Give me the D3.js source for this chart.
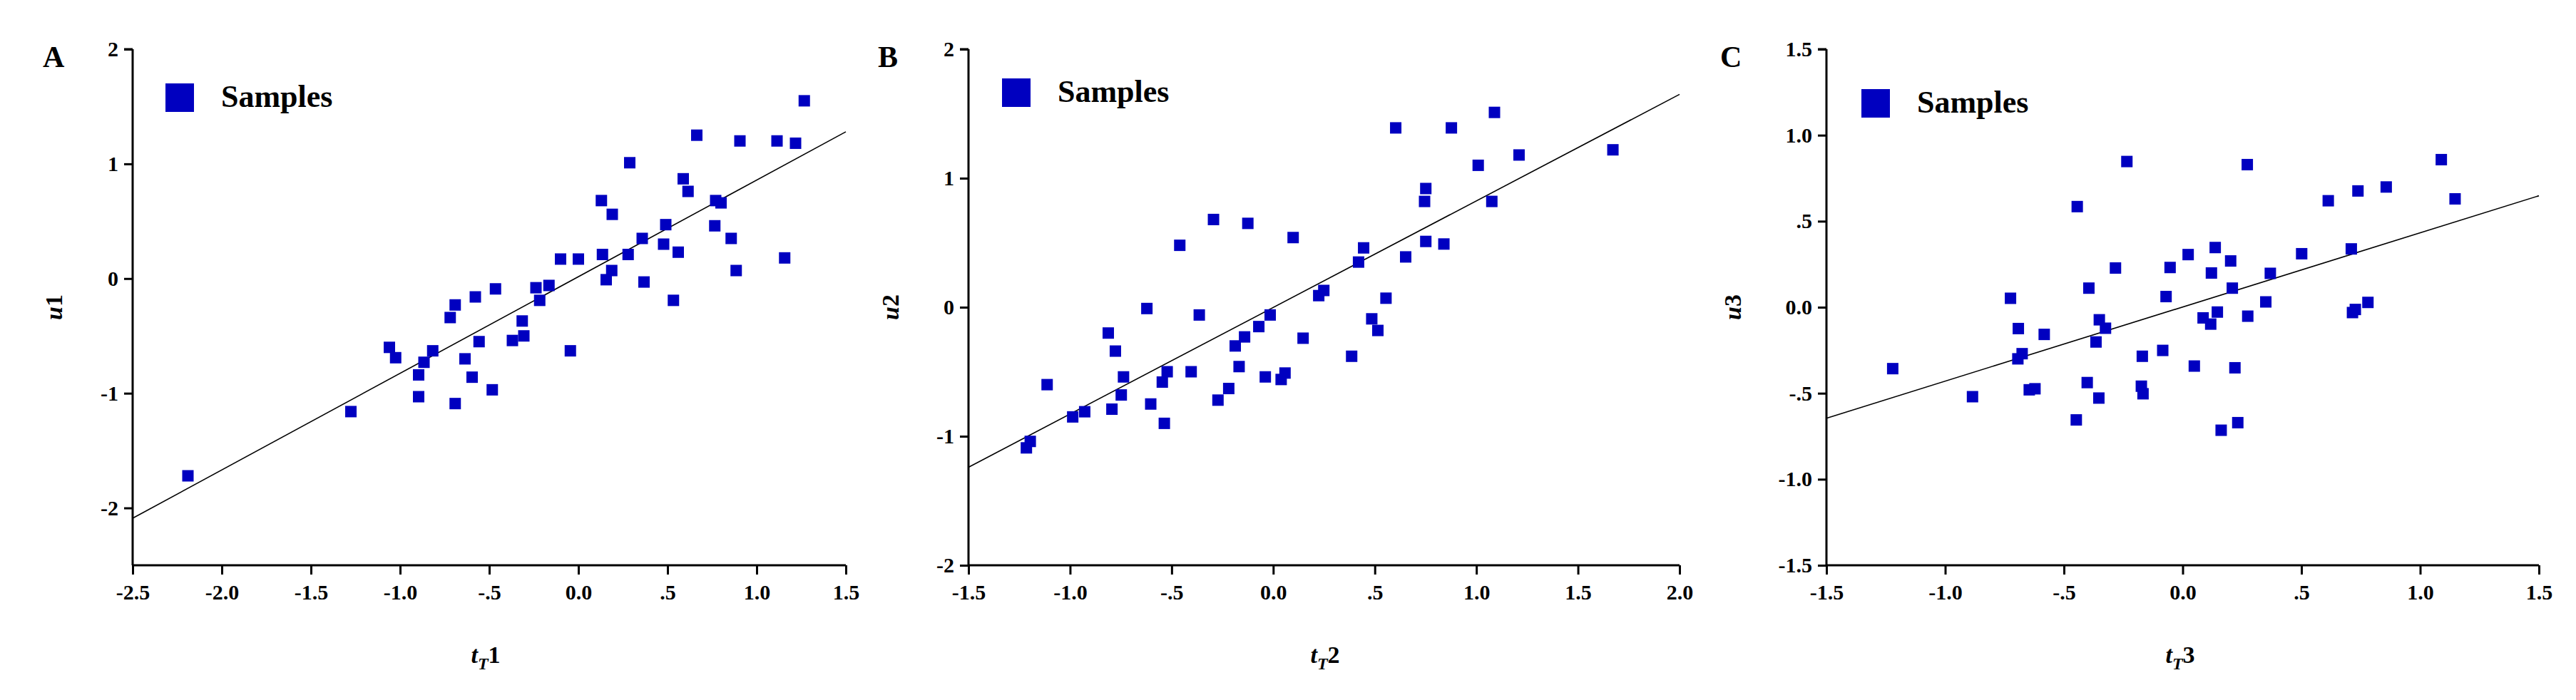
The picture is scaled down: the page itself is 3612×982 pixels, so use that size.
<!DOCTYPE html>
<html><head><meta charset="utf-8">
<script src="https://cdn.jsdelivr.net/npm/d3@7"></script>
<style>body{margin:0;background:#fff}text{font-family:"Liberation Serif","Times New Roman",serif;font-weight:bold}</style>
</head><body>
<svg id="c" width="3612" height="982"></svg>
<script>
const pointsA = [[-2.19,-1.72],[-1.276,-1.16],[-1.06,-0.60],[-1.025,-0.69],[-0.896,-0.84],[-0.896,-1.03],[-0.866,-0.73],[-0.817,-0.63],[-0.719,-0.34],[-0.691,-0.23],[-0.691,-1.09],[-0.636,-0.70],[-0.596,-0.86],[-0.578,-0.16],[-0.557,-0.55],[-0.483,-0.97],[-0.465,-0.09],[-0.37,-0.54],[-0.315,-0.37],[-0.306,-0.50],[-0.238,-0.08],[-0.217,-0.19],[-0.165,-0.06],[-0.10,0.17],[-0.045,-0.63],[0.0,0.17],[0.129,0.68],[0.135,0.21],[0.156,-0.01],[0.19,0.56],[0.187,0.07],[0.279,0.21],[0.288,1.01],[0.358,0.35],[0.368,-0.03],[0.478,0.30],[0.49,0.47],[0.533,-0.19],[0.56,0.23],[0.588,0.87],[0.615,0.76],[0.664,1.25],[0.765,0.46],[0.77,0.68],[0.80,0.66],[0.857,0.35],[0.885,0.07],[0.906,1.20],[1.114,1.20],[1.157,0.18],[1.218,1.18],[1.267,1.55]];
const pointsB = [[-1.215,-1.09],[-1.196,-1.04],[-1.113,-0.60],[-0.987,-0.85],[-0.928,-0.81],[-0.812,-0.20],[-0.794,-0.79],[-0.777,-0.34],[-0.748,-0.68],[-0.737,-0.54],[-0.622,-0.01],[-0.603,-0.75],[-0.546,-0.58],[-0.536,-0.90],[-0.522,-0.50],[-0.46,0.48],[-0.404,-0.50],[-0.364,-0.06],[-0.294,0.68],[-0.272,-0.72],[-0.219,-0.63],[-0.187,-0.30],[-0.168,-0.46],[-0.141,-0.23],[-0.125,0.65],[-0.071,-0.15],[-0.039,-0.54],[-0.015,-0.06],[0.039,-0.56],[0.058,-0.51],[0.098,0.54],[0.147,-0.24],[0.224,0.09],[0.249,0.13],[0.386,-0.38],[0.42,0.35],[0.445,0.46],[0.485,-0.09],[0.515,-0.18],[0.555,0.07],[0.603,1.39],[0.652,0.39],[0.745,0.82],[0.751,0.92],[0.751,0.51],[0.84,0.49],[0.877,1.39],[1.009,1.10],[1.076,0.82],[1.089,1.51],[1.21,1.18],[1.672,1.22]];
const pointsC = [[-1.221,-0.357],[-0.885,-0.52],[-0.725,0.052],[-0.692,-0.124],[-0.694,-0.30],[-0.676,-0.27],[-0.646,-0.48],[-0.622,-0.474],[-0.583,-0.158],[-0.448,-0.655],[-0.444,0.585],[-0.402,-0.438],[-0.395,0.111],[-0.365,-0.202],[-0.353,-0.528],[-0.351,-0.073],[-0.325,-0.122],[-0.283,0.228],[-0.235,0.847],[-0.174,-0.459],[-0.17,-0.285],[-0.167,-0.503],[-0.084,-0.251],[-0.07,0.062],[-0.053,0.231],[0.023,0.306],[0.049,-0.342],[0.086,-0.062],[0.118,-0.098],[0.121,0.199],[0.137,0.347],[0.146,-0.028],[0.202,0.269],[0.209,0.111],[0.22,-0.352],[0.162,-0.715],[0.232,-0.671],[0.272,0.829],[0.274,-0.052],[0.35,0.031],[0.369,0.197],[0.501,0.311],[0.613,0.619],[0.71,0.339],[0.715,-0.031],[0.727,-0.013],[0.738,0.676],[0.78,0.028],[0.857,0.699],[1.089,0.858],[1.147,0.63]];
// regression lines: [x0, y0, x1, y1]
const lineA = [-2.5, -2.09, 1.5, 1.28];
const lineB = [-1.5, -1.24, 2.0, 1.65];
const lineC = [-1.5, -0.645, 1.5, 0.648];
const xTicksA = [-2.5,-2,-1.5,-1,-0.5,0,0.5,1,1.5];
const yTicksA = [-2,-1,0,1,2];
const xTicksB = [-1.5,-1,-0.5,0,0.5,1,1.5,2];
const yTicksB = [-2,-1,0,1,2];
const xTicksC = [-1.5,-1,-0.5,0,0.5,1,1.5];
const yTicksC = [-1.5,-1,-0.5,0,0.5,1,1.5];
const panelLetters = ["A","B","C"];
const legendLabel = "Samples";

function fmtDec(v){ if(v===0) return "0.0"; let s=v.toFixed(1); return s.replace(/^(-?)0\./,"$1."); }
function fmtInt(v){ return String(v); }

const svg = d3.select("#c");
const panels = [
 {pts:pointsA,line:lineA,xd:[-2.5,1.5],yd:[-2.5,2],xr:[186,1186],xt:xTicksA,yt:yTicksA,yf:fmtInt,letter:panelLetters[0],lx:60,ytx:77,xtx:681,n:"1",leg:[232,117]},
 {pts:pointsB,line:lineB,xd:[-1.5,2],yd:[-2,2],xr:[1358,2355],xt:xTicksB,yt:yTicksB,yf:fmtInt,letter:panelLetters[1],lx:1231,ytx:1250,xtx:1858,n:"2",leg:[1405,110]},
 {pts:pointsC,line:lineC,xd:[-1.5,1.5],yd:[-1.5,1.5],xr:[2561,3560],xt:xTicksC,yt:yTicksC,yf:fmtDec,letter:panelLetters[2],lx:2412,ytx:2431,xtx:3057,n:"3",leg:[2610,125]}
];
const plotTop=69, plotBottom=793;
panels.forEach(p=>{
  const x=d3.scaleLinear().domain(p.xd).range(p.xr);
  const y=d3.scaleLinear().domain(p.yd).range([plotBottom,plotTop]);
  const g=svg.append("g");
  const ya=g.append("g").attr("transform",`translate(${p.xr[0]},0)`).call(d3.axisLeft(y).tickValues(p.yt).tickFormat(p.yf).tickSize(12).tickPadding(8));
  const xa=g.append("g").attr("transform",`translate(0,${plotBottom})`).call(d3.axisBottom(x).tickValues(p.xt).tickFormat(fmtDec).tickSize(13).tickPadding(14));
  [ya,xa].forEach(a=>{a.select(".domain").attr("stroke","#000").attr("stroke-width",3);
    a.selectAll(".tick line").attr("stroke","#000").attr("stroke-width",3);
    a.selectAll("text").attr("font-size",30).attr("font-weight","bold").attr("fill","#000").attr("font-family","Liberation Serif");});
  ya.select(".domain").attr("d",`M0,${plotBottom}V${plotTop}M-12,${plotTop}H0`);
  xa.select(".domain").attr("d",`M${p.xr[0]},0H${p.xr[1]}`);
  g.append("line").attr("x1",x(p.line[0])).attr("y1",y(p.line[1])).attr("x2",x(p.line[2])).attr("y2",y(p.line[3])).attr("stroke","#000").attr("stroke-width",1.6);
  g.selectAll("rect.pt").data(p.pts).enter().append("rect").attr("class","pt")
   .attr("x",d=>x(d[0])-8).attr("y",d=>y(d[1])-8).attr("width",16).attr("height",16).attr("fill","#0000c0");
  g.append("text").attr("x",p.lx).attr("y",94).attr("font-size",42).text(p.letter);
  g.append("rect").attr("x",p.leg[0]).attr("y",p.leg[1]).attr("width",40).attr("height",40).attr("fill","#0000c0");
  g.append("text").attr("x",p.leg[0]+78).attr("y",p.leg[1]+33).attr("font-size",44).text(legendLabel);
  const yt=g.append("text").attr("transform",`translate(${p.ytx+10},431) rotate(-90)`).attr("text-anchor","middle").attr("font-size",34).attr("font-style","italic");
  yt.append("tspan").text("u"); yt.append("tspan").attr("font-style","normal").text(p.n);
  const xt=g.append("text").attr("x",p.xtx).attr("y",930).attr("text-anchor","middle").attr("font-size",34);
  xt.append("tspan").attr("font-style","italic").text("t");
  xt.append("tspan").attr("font-style","italic").attr("font-size",24).attr("dy",9).text("T");
  xt.append("tspan").attr("dy",-9).text(p.n);
});
</script>
</body></html>
